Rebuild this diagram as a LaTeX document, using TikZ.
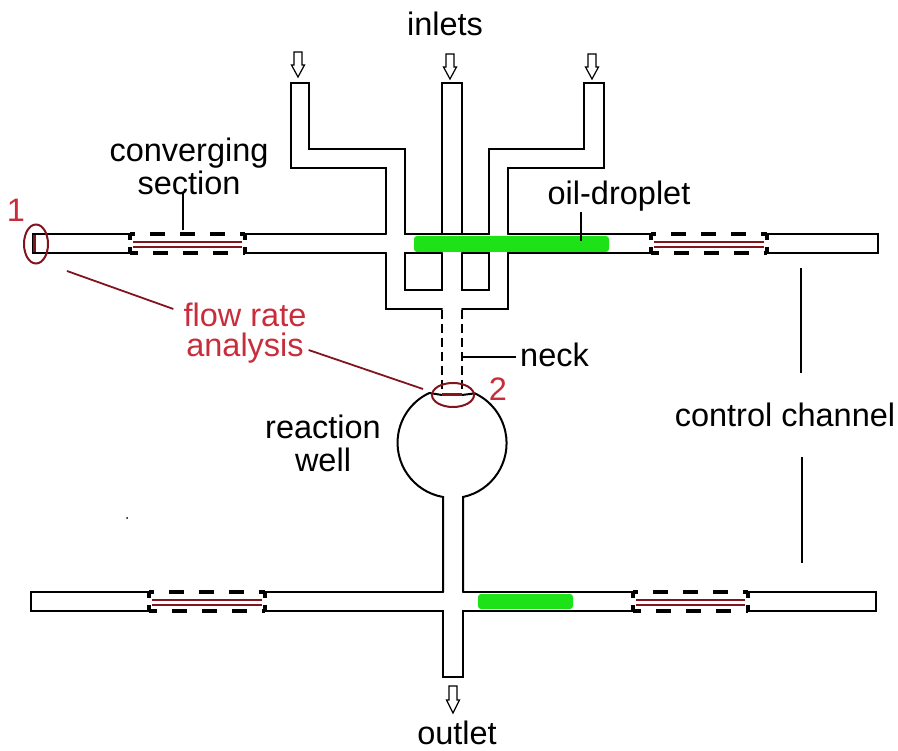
\documentclass[tikz,border=0pt]{standalone}
\usepackage{fontspec}
\setmainfont{Liberation Sans}
\usetikzlibrary{positioning}
\definecolor{dropgreen}{RGB}{30,226,24}
\definecolor{ringred}{RGB}{130,20,30}
\definecolor{notered}{RGB}{200,45,60}
\tikzset{
    wall/.style={line width=2pt, black, line cap=round, line join=miter},
    neckwall/.style={line width=2pt, black, dash pattern=on 9pt off 5pt},
    gatewall/.style={line width=3.4pt, black},
    gatered/.style={line width=1.8pt, ringred},
    droplet/.style={fill=dropgreen, rounded corners=3pt, draw=none},
    ring/.style={line width=2pt, ringred},
    leader/.style={line width=2.4pt, black},
    noteline/.style={line width=1.8pt, ringred},
    openarrow/.style={line width=1.2pt, black, fill=white, line join=miter},
    lbl/.style={font=\fontsize{32.5}{33}\selectfont, align=center, inner sep=0pt, text=black},
    redlbl/.style={lbl, text=notered}
}
\begin{document}
\begin{tikzpicture}[x=1pt,y=-1pt]
    \useasboundingbox (0,0) rectangle (898,751);

    % droplets first, walls on top
    \fill[droplet] (414,236) rectangle (609,252);
    \fill[droplet] (478,594) rectangle (573,609);

    % inlets and junction
    \draw[wall] (386,234) -- (386,168) -- (291,168) -- (291,83) -- (309,83) -- (309,149) -- (405,149) -- (405,234) -- (489,234) -- (489,149) -- (584,149) -- (584,83) -- (604,83) -- (604,168) -- (508,168) -- (508,234);
    \draw[wall] (442,234) -- (442,83) -- (462,83) -- (462,234);
    \draw[wall] (386,253) -- (386,309) -- (442,309);
    \draw[wall] (508,253) -- (508,309) -- (462,309);
    \draw[wall] (442,253) -- (442,290) -- (405,290) -- (405,253) -- (442,253);
    \draw[wall] (462,253) -- (462,290) -- (489,290) -- (489,253) -- (462,253);

    % top channel
    \draw[wall] (130,234) -- (33,234) -- (33,253) -- (130,253);
    \draw[wall] (245,234) -- (386,234);
    \draw[wall] (245,253) -- (386,253);
    \draw[wall] (508,234) -- (651,234);
    \draw[wall] (508,253) -- (651,253);
    \draw[wall] (767,234) -- (878,234) -- (878,253) -- (767,253);

    % bottom channel and outlet
    \draw[wall] (149,592) -- (31,592) -- (31,611) -- (149,611);
    \draw[wall] (265,592) -- (443,592);
    \draw[wall] (265,611) -- (443,611) -- (443,677) -- (463,677) -- (463,611) -- (633,611);
    \draw[wall] (463,592) -- (633,592);
    \draw[wall] (748,592) -- (876,592) -- (876,611) -- (748,611);

    % converging sections
    \foreach \xa/\xb/\ya in {130/245/234, 651/767/234, 149/265/592, 633/748/592} {
        \draw[gatewall, dash pattern=on 15pt off 15pt, dash phase=10pt] (\xa,\ya) -- (\xb,\ya);
        \draw[gatewall, dash pattern=on 15pt off 15pt, dash phase=7pt] (\xa,\ya+19) -- (\xb,\ya+19);
        \draw[gatewall] (\xa,\ya) -- ++(0,6) (\xa,\ya+19) -- ++(0,-6);
        \draw[gatewall] (\xb,\ya) -- ++(0,6) (\xb,\ya+19) -- ++(0,-6);
        \draw[gatered] (\xa+3,\ya+8) -- (\xb-3,\ya+8);
        \draw[gatered] (\xa+3,\ya+13) -- (\xb-3,\ya+13);
    }

    % neck and well
    \draw[neckwall] (442,310) -- (442,395);
    \draw[neckwall] (462,310) -- (462,395);
    \draw[wall] (463,592) -- (463,497) arc (78:-65:55) -- (462,395);
    \draw[wall] (443,592) -- (443,497) arc (100:245:55) -- (442,395);

    % flow arrows
    \foreach \xt/\yt in {298/77, 450/79, 592/79} {
        \draw[openarrow] (\xt-4,\yt-25) -- (\xt+4,\yt-25) -- (\xt+4,\yt-12) -- (\xt+6.5,\yt-12) -- (\xt,\yt) -- (\xt-6.5,\yt-12) -- (\xt-4,\yt-12) -- cycle;
    }
    \draw[openarrow] (449,686) -- (457,686) -- (457,700) -- (459.5,700) -- (453,713) -- (446.5,700) -- (449,700) -- cycle;

    % measuring points
    \draw[line width=3pt, ringred] (34,235) -- (34,252);
    \draw[line width=3pt, ringred] (442,395) -- (462,395);
    \draw[ring] (36,244) ellipse (12 and 19.5);
    \draw[ring] (453,395) ellipse (21 and 12);

    % labels
    \node[lbl] (inlets) at (445,24) {inlets};
    \node[lbl] (outlet) at (457,733) {outlet};
    \node[lbl] (conv) at (189,166) {converging\\section};
    \node[lbl] (oil) at (619,196) {oil-droplet};
    \node[lbl, anchor=west] (neck) at (520,355) {neck};
    \node[lbl] (well) at (323,443) {reaction\\well};
    \node[lbl] (ctrl) at (785,415) {control channel};
    \node[redlbl, font=\fontsize{32.5}{30}\selectfont] (flow) at (245,333) {flow rate\\analysis};
    \node[redlbl] (one) at (16,210) {1};
    \node[redlbl] (two) at (498,389) {2};

    % leaders
    \coordinate (convend) at (183,230);
    \coordinate (oilend) at (581,241);
    \coordinate (neckend) at (463,357);
    \coordinate (ctrlup) at (801,268);
    \coordinate (ctrldown) at (802,563);
    \coordinate (flowa) at (67,271);
    \coordinate (flowb) at (423,389);
    \draw[leader] (conv.south -| convend) ++(0,-2) -- (convend);
    \draw[leader] (oil.south -| oilend) ++(0,1) -- (oilend);
    \draw[leader] (neck.west |- neckend) ++(-4,0) -- (neckend);
    \draw[leader, shorten <=30pt] (ctrl.north -| ctrlup) -- (ctrlup);
    \draw[leader, shorten <=30pt] (ctrl.south -| ctrldown) -- (ctrldown);
    \draw[noteline] (flow.west) ++(-10,-24) -- (flowa);
    \draw[noteline] (flow.east) ++(2,17) -- (flowb);

    \fill[black] (127,518) circle (1);
\end{tikzpicture}
\end{document}
